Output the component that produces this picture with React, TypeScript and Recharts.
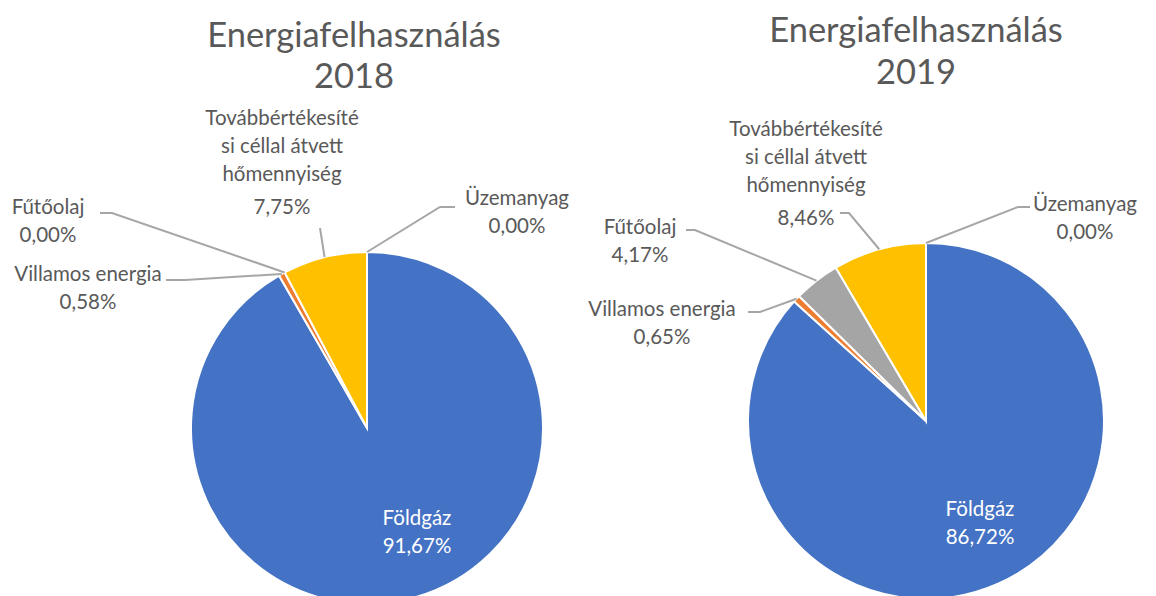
import React from "react";
import { PieChart, Pie, Cell } from "recharts";

const categories = [
  "Földgáz",
  "Villamos energia",
  "Fűtőolaj",
  "Továbbértékesítési céllal átvett hőmennyiség",
  "Üzemanyag",
];
const labelLines = [
  ["Földgáz"],
  ["Villamos energia"],
  ["Fűtőolaj"],
  ["Továbbértékesíté", "si céllal átvett", "hőmennyiség"],
  ["Üzemanyag"],
];
const values2018 = [91.67, 0.58, 0.0, 7.75, 0.0];
const values2019 = [86.72, 0.65, 4.17, 8.46, 0.0];
const colors = ["#4472C4", "#ED7D31", "#A5A5A5", "#FFC000", "#5B9BD5"];

const FONT = "Lato, 'Open Sans', sans-serif";
const TEXT = "#595959";
const LEADER = "#A6A6A6";

// label placement relative to pie centre: x, first line y, leader points
type Layout = { x: number; y: number; inside?: boolean; leader?: [number, number][] };

const layout2018: Layout[] = [
  { x: 50, y: 89, inside: true },
  { x: -279, y: -155, leader: [[-201, -148], [-182, -148]] },
  { x: -319, y: -222, leader: [[-267, -215], [-255, -215]] },
  { x: -85, y: -311, leader: [[-47, -200]] },
  { x: 150, y: -231, leader: [[88, -221], [73, -221]] },
];
const layout2019: Layout[] = [
  { x: 54, y: 87, inside: true },
  { x: -264, y: -113, leader: [[-178, -109], [-166, -109]] },
  { x: -286, y: -195, leader: [[-240, -191], [-231, -191]] },
  { x: -120, y: -293, leader: [[-86, -208], [-77, -208]] },
  { x: 159, y: -218, leader: [[104, -214], [92, -214]] },
];

const LINE_H = 28;
const RAD = Math.PI / 180;

const fmtPct = (v: number) => v.toFixed(2).replace(".", ",") + "%";

function makeLabel(layout: Layout[]) {
  return (props: any) => {
    const { cx, cy, midAngle, outerRadius, index, value } = props;
    const l = layout[index];
    if (!l) return null;
    const lines = [...labelLines[index], fmtPct(value)];
    const color = l.inside ? "#FFFFFF" : TEXT;
    let path = "";
    if (l.leader) {
      const ex = cx + outerRadius * Math.cos(-midAngle * RAD);
      const ey = cy + outerRadius * Math.sin(-midAngle * RAD);
      const pts = [...l.leader.map(([dx, dy]) => [cx + dx, cy + dy]), [ex, ey]];
      path = pts.map((p, i) => `${i ? "L" : "M"}${p[0]},${p[1]}`).join(" ");
    }
    return (
      <g key={`lbl-${index}`}>
        {path && <path d={path} stroke={LEADER} strokeWidth={2} fill="none" />}
        {lines.map((t, i) => (
          <text
            key={i}
            x={cx + l.x}
            y={cy + l.y + i * LINE_H + (i === lines.length - 1 && lines.length > 3 ? 5 : 0)}
            textAnchor="middle"
            dominantBaseline="central"
            fill={color}
            fontFamily={FONT}
            fontSize={20.5}
          >
            {t}
          </text>
        ))}
      </g>
    );
  };
}

const data2018 = categories.map((name, i) => ({ name, value: values2018[i] }));
const data2019 = categories.map((name, i) => ({ name, value: values2019[i] }));

const titleStyle = { fill: TEXT, fontFamily: FONT, fontSize: 34.5 };

export default function App() {
  return (
    <div style={{ position: "absolute", left: 0, top: 0, background: "#fff" }}>
      <PieChart width={1156} height={596} margin={{ top: 0, right: 0, bottom: 0, left: 0 }}>
        <text x={354} y={33} textAnchor="middle" dominantBaseline="central" style={titleStyle}>
          Energiafelhasználás
        </text>
        <text x={354} y={74} textAnchor="middle" dominantBaseline="central" style={titleStyle}>
          2018
        </text>
        <text x={916} y={28} textAnchor="middle" dominantBaseline="central" style={titleStyle}>
          Energiafelhasználás
        </text>
        <text x={916} y={70} textAnchor="middle" dominantBaseline="central" style={titleStyle}>
          2019
        </text>
        <Pie
          data={data2018}
          dataKey="value"
          nameKey="name"
          cx={367}
          cy={428}
          outerRadius={176}
          startAngle={90}
          endAngle={-270}
          stroke="#fff"
          strokeWidth={2}
          label={makeLabel(layout2018)}
          labelLine={false}
          isAnimationActive={false}
        >
          {data2018.map((d, i) => (
            <Cell key={d.name} fill={colors[i]} />
          ))}
        </Pie>
        <Pie
          data={data2019}
          dataKey="value"
          nameKey="name"
          cx={926}
          cy={421}
          outerRadius={178}
          startAngle={90}
          endAngle={-270}
          stroke="#fff"
          strokeWidth={2}
          label={makeLabel(layout2019)}
          labelLine={false}
          isAnimationActive={false}
        >
          {data2019.map((d, i) => (
            <Cell key={d.name} fill={colors[i]} />
          ))}
        </Pie>
      </PieChart>
    </div>
  );
}
